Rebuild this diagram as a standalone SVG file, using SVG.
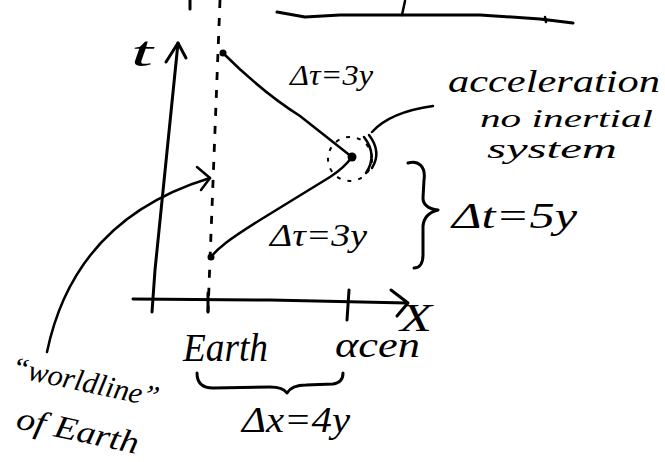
<svg xmlns="http://www.w3.org/2000/svg" width="665" height="462" viewBox="0 0 665 462">
<style>
.ln{fill:none;stroke:#000;stroke-width:2.5;stroke-linecap:round;stroke-linejoin:round}
.th{stroke-width:3}
.dash{stroke-dasharray:8 10;stroke-linecap:butt;stroke-width:2.8}
.tx{font-family:"Liberation Serif","DejaVu Serif",serif;font-style:italic;font-weight:normal;fill:#000}
</style>
<rect width="665" height="462" fill="#fff"/>
<g id="top-fragment">
<path class="ln th" d="M190,0 L190,9"/>
<path class="ln th" d="M277,12 L305,17 L340,15 L400,15 L480,15 L540,19 L573,23"/>
<path class="ln" d="M405,1 L402,15"/>
<path class="ln" d="M545,17 L546,22"/>
</g>
<g id="axes">
<path class="ln th" d="M152,312 L155,270 L178,43"/>
<path class="ln th" d="M166,62 L178,43 L186,58"/>
<text class="tx" x="131" y="66" font-size="42" textLength="22" lengthAdjust="spacingAndGlyphs">t</text>
<path class="ln th" d="M133,299 L270,300 L407,303"/>
<path class="ln th" d="M391,290 L408,303 L397,316"/>
<text class="tx" x="400" y="331" font-size="40" textLength="32" lengthAdjust="spacingAndGlyphs">X</text>
<path class="ln th" d="M208,293 L208,312"/>
<path class="ln th" d="M349,290 L347,320"/>
</g>
<g id="earth-worldline">
<path class="ln dash" d="M220,0 L208,312"/>
</g>
<g id="trip">
<path class="ln" d="M223,53 Q262,92 300,116 L352,157"/>
<path class="ln" d="M210,258 C218,248 228,240 260,220 L330,177 Q344,168 352,157"/>
<circle cx="223" cy="53" r="3.5" fill="#000"/>
<circle cx="352" cy="157" r="4.5" fill="#000"/>
<circle cx="211" cy="257" r="3.5" fill="#000"/>
<text class="tx" x="290" y="85" font-size="30" textLength="83" lengthAdjust="spacingAndGlyphs">Δτ=3y</text>
<text class="tx" x="270" y="246" font-size="32" textLength="97" lengthAdjust="spacingAndGlyphs">Δτ=3y</text>
</g>
<g id="acceleration">
<circle cx="350" cy="159" r="22" fill="none" stroke="#000" stroke-width="2" stroke-dasharray="4 7"/>
<path class="ln" stroke-width="2" d="M364,137 Q378,155 366,173"/>
<path class="ln" stroke-width="2" d="M369,135 Q382,152 372,168"/>
<text class="tx" x="448" y="92" font-size="32" textLength="212" lengthAdjust="spacingAndGlyphs">acceleration</text>
<text class="tx" x="480" y="127" font-size="26" textLength="173" lengthAdjust="spacingAndGlyphs">no inertial</text>
<text class="tx" x="487" y="158" font-size="28" textLength="130" lengthAdjust="spacingAndGlyphs">system</text>
</g>
<g id="delta-t">
<path class="ln th" d="M408,163 C418,160 426,166 424,180 L423,198 C423,206 430,209 438,210 C430,212 424,216 423,226 L423,255 C423,264 419,268 414,268"/>
<text class="tx" x="452" y="228" font-size="36" textLength="125" lengthAdjust="spacingAndGlyphs">Δt=5y</text>
</g>
<g id="delta-x">
<text class="tx" x="183" y="361" font-size="40" textLength="85" lengthAdjust="spacingAndGlyphs">Earth</text>
<text class="tx" x="335" y="357" font-size="36" textLength="85" lengthAdjust="spacingAndGlyphs">αcen</text>
<path class="ln th" d="M197,373 C197,383 202,388 213,388 L270,387 C280,387 285,390 287,393 C290,388 296,385 306,385 L333,384 C340,383 343,379 343,373"/>
<text class="tx" x="242" y="432" font-size="36" textLength="108" lengthAdjust="spacingAndGlyphs">Δx=4y</text>
</g>
<g id="worldline-label">
<text class="tx" transform="translate(10,376) rotate(12)" font-size="30" textLength="150" lengthAdjust="spacingAndGlyphs">“worldline”</text>
<text class="tx" transform="translate(15,428) rotate(12)" font-size="32" textLength="124" lengthAdjust="spacingAndGlyphs">of Earth</text>
</g>
<g id="connectors">
<path class="ln" stroke-width="2" d="M372,132 Q390,112 433,106"/>
<path class="ln" d="M47,352 C62,280 105,210 210,178"/>
<path class="ln" d="M197,167 L210,178 L201,190"/>
</g>
</svg>
